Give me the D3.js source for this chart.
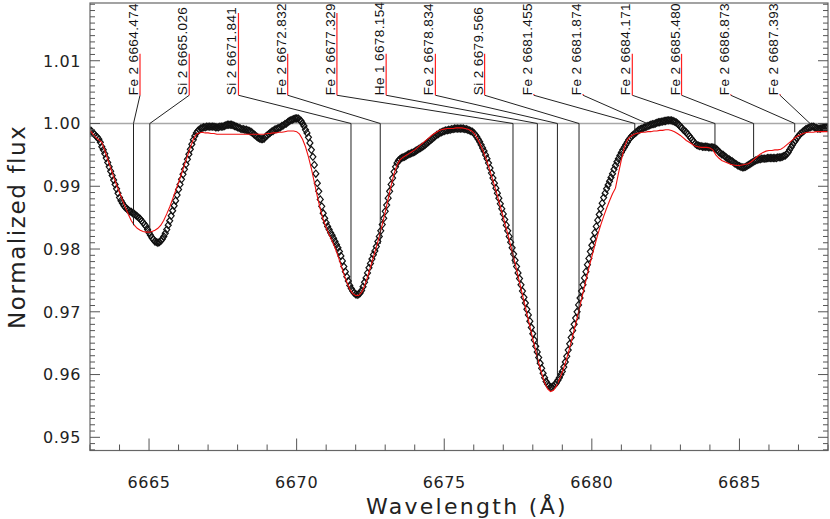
<!DOCTYPE html>
<html><head><meta charset="utf-8">
<script src="https://cdn.jsdelivr.net/npm/d3@7"></script>
<style>body{margin:0;background:#fff} svg{display:block}</style>
</head><body>
<svg id="c" width="830" height="519"></svg>
<script>
const waveStart = 6663.0;
const obsStep = 0.05, modelStep = 0.1;
const observedFlux = [
0.9989,0.9988,0.9985,0.9983,0.9980,0.9978,0.9975,0.9970,0.9963,0.9958,0.9952,0.9945,0.9938,0.9931,0.9924,0.9917,0.9910,0.9903,0.9896,0.9889,
0.9882,0.9877,0.9873,0.9869,0.9866,0.9864,0.9862,0.9860,0.9859,0.9857,0.9856,0.9854,0.9852,0.9850,0.9848,0.9845,0.9842,0.9839,0.9836,0.9831,
0.9826,0.9822,0.9818,0.9815,0.9812,0.9811,0.9810,0.9811,0.9813,0.9816,0.9820,0.9825,0.9831,0.9838,0.9845,0.9853,0.9861,0.9869,0.9877,0.9886,
0.9895,0.9903,0.9911,0.9919,0.9927,0.9935,0.9943,0.9951,0.9959,0.9967,0.9974,0.9980,0.9985,0.9988,0.9990,0.9992,0.9993,0.9994,0.9994,0.9995,
0.9995,0.9995,0.9995,0.9995,0.9995,0.9994,0.9994,0.9994,0.9995,0.9995,0.9995,0.9996,0.9997,0.9998,0.9998,0.9998,0.9998,0.9997,0.9996,0.9995,
0.9994,0.9993,0.9992,0.9991,0.9991,0.9990,0.9990,0.9989,0.9988,0.9987,0.9985,0.9983,0.9981,0.9979,0.9977,0.9976,0.9975,0.9975,0.9976,0.9979,
0.9981,0.9983,0.9985,0.9987,0.9988,0.9990,0.9991,0.9992,0.9993,0.9994,0.9996,0.9997,0.9999,1.0000,1.0002,1.0004,1.0005,1.0006,1.0007,1.0008,
1.0008,1.0008,1.0006,1.0004,1.0000,0.9996,0.9990,0.9985,0.9978,0.9969,0.9958,0.9947,0.9934,0.9920,0.9905,0.9892,0.9879,0.9868,0.9857,0.9849,
0.9842,0.9836,0.9831,0.9826,0.9822,0.9817,0.9812,0.9807,0.9802,0.9796,0.9789,0.9781,0.9772,0.9764,0.9756,0.9749,0.9742,0.9737,0.9733,0.9730,
0.9728,0.9727,0.9728,0.9730,0.9734,0.9740,0.9747,0.9754,0.9762,0.9770,0.9777,0.9784,0.9791,0.9797,0.9804,0.9812,0.9820,0.9829,0.9839,0.9849,
0.9860,0.9870,0.9881,0.9892,0.9903,0.9913,0.9923,0.9931,0.9937,0.9941,0.9943,0.9945,0.9946,0.9947,0.9948,0.9950,0.9951,0.9952,0.9953,0.9954,
0.9955,0.9957,0.9958,0.9960,0.9961,0.9963,0.9964,0.9966,0.9968,0.9970,0.9972,0.9974,0.9976,0.9978,0.9980,0.9982,0.9983,0.9985,0.9986,0.9987,
0.9988,0.9989,0.9989,0.9990,0.9990,0.9991,0.9991,0.9992,0.9992,0.9992,0.9992,0.9992,0.9992,0.9992,0.9991,0.9991,0.9990,0.9989,0.9988,0.9987,
0.9985,0.9982,0.9979,0.9975,0.9971,0.9966,0.9961,0.9956,0.9950,0.9944,0.9937,0.9929,0.9921,0.9913,0.9905,0.9897,0.9889,0.9881,0.9872,0.9864,
0.9856,0.9847,0.9838,0.9829,0.9820,0.9811,0.9802,0.9792,0.9782,0.9772,0.9762,0.9753,0.9743,0.9733,0.9723,0.9714,0.9704,0.9695,0.9685,0.9675,
0.9665,0.9655,0.9645,0.9636,0.9627,0.9618,0.9610,0.9602,0.9595,0.9589,0.9585,0.9582,0.9580,0.9580,0.9582,0.9584,0.9587,0.9591,0.9595,0.9600,
0.9605,0.9612,0.9620,0.9629,0.9639,0.9649,0.9659,0.9670,0.9680,0.9690,0.9700,0.9711,0.9722,0.9733,0.9743,0.9754,0.9764,0.9775,0.9785,0.9796,
0.9806,0.9816,0.9826,0.9836,0.9846,0.9855,0.9864,0.9873,0.9882,0.9889,0.9896,0.9902,0.9908,0.9914,0.9920,0.9927,0.9933,0.9939,0.9944,0.9949,
0.9954,0.9958,0.9962,0.9966,0.9970,0.9974,0.9977,0.9980,0.9982,0.9984,0.9986,0.9988,0.9990,0.9991,0.9992,0.9993,0.9994,0.9995,0.9996,0.9997,
0.9998,0.9999,0.9999,1.0000,1.0001,1.0002,1.0002,1.0003,1.0003,1.0004,1.0004,1.0005,1.0005,1.0005,1.0005,1.0004,1.0003,1.0002,1.0000,0.9998,
0.9995,0.9993,0.9990,0.9988,0.9986,0.9983,0.9980,0.9977,0.9974,0.9971,0.9968,0.9966,0.9965,0.9964,0.9964,0.9963,0.9963,0.9963,0.9963,0.9962,
0.9962,0.9962,0.9962,0.9961,0.9960,0.9958,0.9955,0.9953,0.9951,0.9950,0.9948,0.9946,0.9944,0.9943,0.9941,0.9940,0.9938,0.9936,0.9935,0.9933,
0.9932,0.9931,0.9930,0.9930,0.9931,0.9932,0.9934,0.9935,0.9937,0.9938,0.9940,0.9941,0.9942,0.9943,0.9943,0.9944,0.9944,0.9944,0.9944,0.9945,
0.9945,0.9945,0.9945,0.9945,0.9945,0.9945,0.9946,0.9946,0.9946,0.9947,0.9948,0.9949,0.9951,0.9954,0.9958,0.9962,0.9966,0.9970,0.9973,0.9977,
0.9980,0.9983,0.9985,0.9987,0.9989,0.9991,0.9992,0.9993,0.9994,0.9995,0.9995,0.9994,0.9993,0.9992,0.9992,0.9992,0.9993,0.9993,0.9994,0.9994,
0.9994];
const modelFlux = [
0.9989,0.9983,0.9978,0.9974,0.9970,0.9957,0.9943,0.9929,0.9915,0.9902,
0.9890,0.9878,0.9866,0.9855,0.9845,0.9838,0.9833,0.9830,0.9828,0.9827,
0.9827,0.9828,0.9830,0.9833,0.9838,0.9846,0.9856,0.9867,0.9880,0.9893,
0.9906,0.9920,0.9934,0.9948,0.9962,0.9975,0.9983,0.9985,0.9986,0.9985,
0.9985,0.9984,0.9984,0.9983,0.9983,0.9983,0.9983,0.9983,0.9983,0.9983,
0.9983,0.9983,0.9983,0.9983,0.9983,0.9983,0.9983,0.9983,0.9983,0.9983,
0.9984,0.9984,0.9985,0.9985,0.9986,0.9986,0.9987,0.9988,0.9988,0.9988,
0.9987,0.9983,0.9975,0.9963,0.9947,0.9928,0.9906,0.9884,0.9864,0.9847,
0.9834,0.9823,0.9813,0.9802,0.9789,0.9775,0.9760,0.9747,0.9736,0.9729,
0.9726,0.9726,0.9731,0.9741,0.9755,0.9771,0.9787,0.9803,0.9820,0.9839,
0.9859,0.9880,0.9901,0.9920,0.9934,0.9942,0.9946,0.9949,0.9952,0.9955,
0.9958,0.9962,0.9966,0.9970,0.9974,0.9978,0.9982,0.9985,0.9988,0.9990,
0.9991,0.9992,0.9992,0.9992,0.9993,0.9993,0.9993,0.9992,0.9991,0.9989,
0.9985,0.9978,0.9969,0.9958,0.9946,0.9932,0.9917,0.9901,0.9885,0.9868,
0.9851,0.9833,0.9815,0.9796,0.9777,0.9757,0.9737,0.9717,0.9697,0.9677,
0.9657,0.9638,0.9619,0.9602,0.9587,0.9577,0.9573,0.9575,0.9582,0.9592,
0.9604,0.9618,0.9634,0.9652,0.9671,0.9690,0.9710,0.9730,0.9750,0.9770,
0.9788,0.9806,0.9823,0.9838,0.9852,0.9865,0.9877,0.9888,0.9897,0.9920,
0.9942,0.9962,0.9974,0.9979,0.9982,0.9984,0.9985,0.9986,0.9986,0.9987,
0.9987,0.9988,0.9988,0.9989,0.9989,0.9990,0.9990,0.9989,0.9987,0.9984,
0.9981,0.9977,0.9973,0.9970,0.9967,0.9964,0.9963,0.9962,0.9962,0.9962,
0.9961,0.9958,0.9950,0.9945,0.9941,0.9939,0.9937,0.9935,0.9934,0.9933,
0.9933,0.9934,0.9935,0.9936,0.9939,0.9943,0.9947,0.9951,0.9954,0.9956,
0.9957,0.9957,0.9958,0.9958,0.9959,0.9962,0.9966,0.9970,0.9974,0.9978,
0.9981,0.9983,0.9985,0.9986,0.9986,0.9986,0.9987,0.9987,0.9987,0.9987,
0.9987];
const lineIons = ["Fe 2","Si 2","Si 2","Fe 2","Fe 2","He 1","Fe 2","Si 2","Fe 2","Fe 2","Fe 2","Fe 2","Fe 2","Fe 2"];
const lineWaves = [6664.474,6665.026,6671.841,6672.832,6677.329,6678.154,6678.834,6679.566,6681.455,6681.874,6684.171,6685.480,6686.873,6687.393];
const lineDepthFlux = [0.9838,0.9828,0.9736,0.9808,0.9776,0.9620,0.9585,0.9688,0.9986,0.9990,0.9963,0.9946,0.9986,0.9990];
const lineMarkTop = [1.0111,1.0111,1.0176,1.0111,1.0176,1.0111,1.0111,1.0111,1.0047,1.0047,1.0111,1.0111,1.0045,1.0047];
const xTicks = [6665,6670,6675,6680,6685];
const yTicks = [0.95,0.96,0.97,0.98,0.99,1.00,1.01];
const xDomain = [6663,6688], yDomain = [0.9479,1.0192];
const continuum = 1.0, labelBase = 1.0045;

const L=90,R=828,T=3,B=450.5;
const svg = d3.select("#c");
const x = d3.scaleLinear().domain(xDomain).range([L,R]);
const y = d3.scaleLinear().domain(yDomain).range([B,T]);
const obs = observedFlux.map((f,i)=>({w:waveStart+i*obsStep,f}));
const mod = modelFlux.map((f,i)=>({w:waveStart+i*modelStep,f}));

svg.append("clipPath").attr("id","pc").append("rect").attr("x",L).attr("y",T).attr("width",R-L).attr("height",B-T);

svg.append("line").attr("x1",L).attr("x2",R).attr("y1",y(continuum)).attr("y2",y(continuum))
  .attr("stroke","#a8a8a8").attr("stroke-width",1.5);

const g = svg.append("g").attr("clip-path","url(#pc)");
g.selectAll("path.d").data(obs).join("path").attr("class","d")
  .attr("d","M0,-3.5L3,0L0,3.5L-3,0Z")
  .attr("transform",d=>`translate(${x(d.w)},${y(d.f)})`)
  .attr("fill","none").attr("stroke","#111").attr("stroke-width",1.2);

g.append("path").datum(mod).attr("fill","none").attr("stroke","#f01010").attr("stroke-width",1.1)
  .attr("d",d3.line().x(d=>x(d.w)).y(d=>y(d.f)));

const n = lineWaves.length;
const labX = d3.scaleLinear().domain([0,n-1]).range([140,780]);
lineWaves.forEach((w,i)=>{
  const lx = labX(i);
  svg.append("line").attr("x1",x(w)).attr("x2",x(w)).attr("y1",y(continuum)).attr("y2",y(lineDepthFlux[i]))
    .attr("stroke","#222").attr("stroke-width",1);
  svg.append("line").attr("x1",lx).attr("y1",y(labelBase)).attr("x2",x(w)).attr("y2",y(continuum))
    .attr("stroke","#222").attr("stroke-width",1);
  svg.append("line").attr("x1",lx).attr("x2",lx).attr("y1",y(labelBase)).attr("y2",Math.min(y(lineMarkTop[i]),y(labelBase)-1))
    .attr("stroke","#ff2020").attr("stroke-width",1.2);
  svg.append("text").attr("transform",`translate(${lx-2},${y(labelBase)}) rotate(-90)`)
    .attr("font-family","Liberation Sans, Arial, sans-serif").attr("font-size",13.5)
    .attr("letter-spacing",0.4).attr("fill","#111")
    .text(lineIons[i]+" "+lineWaves[i].toFixed(3));
});

svg.append("rect").attr("x",L).attr("y",T).attr("width",R-L).attr("height",B-T)
  .attr("fill","none").attr("stroke","#666").attr("stroke-width",1.2);

const ax = svg.append("g").attr("stroke","#555").attr("stroke-width",1);
d3.range(6663,6688.01,1).forEach(v=>{
  const major = xTicks.includes(Math.round(v));
  const len = major?12:6;
  ax.append("line").attr("x1",x(v)).attr("x2",x(v)).attr("y1",B).attr("y2",B-len);
});
d3.range(0,72).forEach(k=>{
  const v = 0.948+k*0.001;
  if(v>yDomain[1]) return;
  const major = (Math.round(v*1000)%10)===0;
  const len = major?10:5;
  ax.append("line").attr("x1",L).attr("x2",L+len).attr("y1",y(v)).attr("y2",y(v));
  ax.append("line").attr("x1",R).attr("x2",R-len).attr("y1",y(v)).attr("y2",y(v));
});

const tf = "DejaVu Sans, Verdana, sans-serif";
svg.append("g").selectAll("text").data(yTicks).join("text")
  .attr("x",81).attr("y",d=>y(d)).attr("dy","0.36em").attr("text-anchor","end")
  .attr("font-family",tf).attr("font-size",16).attr("letter-spacing",0.6).attr("fill","#222")
  .text(d=>d.toFixed(2));
svg.append("g").selectAll("text").data(xTicks).join("text")
  .attr("x",d=>x(d)).attr("y",482).attr("dy","0.36em").attr("text-anchor","middle")
  .attr("font-family",tf).attr("font-size",16).attr("letter-spacing",0.6).attr("fill","#222")
  .text(d=>d);

svg.append("text").attr("x",(L+R)/2+8).attr("y",514).attr("text-anchor","middle")
  .attr("font-family",tf).attr("font-size",22).attr("letter-spacing",2.3).attr("fill","#222")
  .text("Wavelength (Å)");
svg.append("text").attr("transform",`translate(17,${(T+B)/2}) rotate(-90)`).attr("dy","0.36em").attr("text-anchor","middle")
  .attr("font-family",tf).attr("font-size",23).attr("letter-spacing",1.6).attr("fill","#222")
  .text("Normalized flux");
</script>
</body></html>
